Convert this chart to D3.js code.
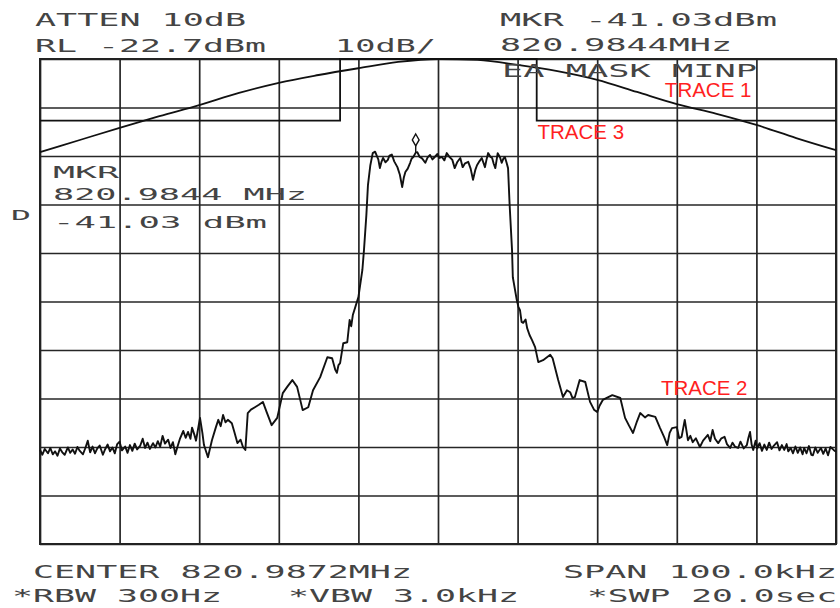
<!DOCTYPE html>
<html>
<head>
<meta charset="utf-8">
<script src="https://cdn.jsdelivr.net/npm/d3@7"></script>
<style>
  html, body { margin: 0; padding: 0; background: #fff; }
  svg { display: block; }
</style>
</head>
<body>
<div id="chart"></div>
<script>
// frequency offset from center (kHz) and level (dBm)
var freqTicks = [-50, -40, -30, -20, -10, 0, 10, 20, 30, 40, 50];
var levelTicks = [-22.7, -32.7, -42.7, -52.7, -62.7, -72.7, -82.7, -92.7, -102.7, -112.7, -122.7];

// trace 1: smooth curve
var trace1 = [
  [-50, -41.9], [-45, -39.4], [-40, -36.9], [-35, -34.5], [-30, -32.2], [-25, -29.7],
  [-20, -27.6], [-15, -26.0], [-10, -24.6], [-5, -23.3], [0, -22.7], [5, -22.9],
  [10, -23.9], [15, -25.2], [20, -27.0], [25, -29.5], [30, -32.0], [35, -34.0],
  [40, -36.3], [45, -39.0], [50, -41.5]
];

// trace 3: mask (EA MASK MINP)
var trace3 = [
  [-50, -35.4], [-12.3, -35.4], [-12.3, -22.7], [12.4, -22.7], [12.4, -35.4], [50, -35.4]
];

// trace 2: measured spectrum
var trace2 = [
  [-50.0, -103.3], [-49.7, -104.3], [-49.4, -103.1], [-49.0, -104.0], [-48.7, -102.9],
  [-48.4, -104.2], [-48.1, -103.6], [-47.8, -104.5], [-47.5, -103.0], [-47.2, -103.8],
  [-46.9, -104.3], [-46.5, -102.8], [-46.2, -103.9], [-45.9, -103.2], [-45.6, -104.1],
  [-45.3, -102.7], [-45.0, -103.5], [-44.6, -104.2], [-44.3, -102.9], [-44.0, -101.4],
  [-43.7, -103.8], [-43.4, -102.6], [-43.1, -104.0], [-42.8, -103.0], [-42.5, -102.4],
  [-42.1, -104.3], [-41.8, -103.1], [-41.5, -102.2], [-41.2, -103.6], [-40.9, -102.8],
  [-40.6, -104.0], [-40.3, -102.1], [-40.0, -101.6], [-39.7, -103.4], [-39.3, -102.6],
  [-39.0, -103.9], [-38.7, -102.3], [-38.4, -103.5], [-38.1, -102.0], [-37.8, -103.2],
  [-37.4, -102.4], [-37.1, -101.0], [-36.8, -102.9], [-36.5, -101.8], [-36.2, -103.1],
  [-35.8, -101.9], [-35.5, -102.8], [-35.2, -101.5], [-34.9, -102.6], [-34.6, -100.4],
  [-34.3, -102.0], [-33.9, -101.2], [-33.6, -102.9], [-33.3, -101.7], [-33.0, -104.2],
  [-32.7, -102.5], [-32.4, -100.9], [-32.0, -99.4], [-31.7, -100.8], [-31.4, -99.6],
  [-31.1, -101.0], [-30.9, -98.7], [-30.6, -100.2], [-30.4, -101.4], [-29.9, -96.7],
  [-29.6, -99.8], [-29.4, -102.3], [-28.9, -104.8], [-28.4, -101.3], [-27.9, -98.6],
  [-27.6, -97.1], [-27.3, -98.4], [-27.0, -96.1], [-26.7, -97.6], [-26.4, -97.1],
  [-25.9, -97.8], [-25.6, -99.5], [-25.2, -101.9], [-24.8, -101.2], [-24.5, -102.7],
  [-24.2, -103.3], [-23.9, -95.7], [-23.5, -95.0], [-23.0, -94.5], [-22.5, -94.0],
  [-22.0, -93.4], [-21.5, -95.6], [-20.9, -98.2], [-20.2, -96.7], [-19.5, -91.6],
  [-18.9, -90.2], [-18.3, -88.9], [-17.7, -90.3], [-17.0, -95.1], [-16.3, -94.5],
  [-15.7, -91.0], [-14.8, -88.3], [-13.9, -84.2], [-13.3, -84.4], [-12.9, -86.8],
  [-12.7, -87.4], [-12.5, -85.8], [-12.3, -85.4], [-11.9, -81.3], [-11.4, -81.1],
  [-11.1, -76.5], [-10.9, -77.8], [-10.7, -75.5], [-10.0, -71.8], [-9.5, -66.2],
  [-9.3, -62.1], [-9.0, -54.9], [-8.8, -48.7], [-8.5, -44.6],
  [-8.2, -42.1], [-7.9, -41.8], [-7.7, -42.6], [-7.5, -43.4], [-7.3, -45.2],
  [-7.1, -43.9], [-6.9, -43.1], [-6.6, -44.0], [-6.3, -43.5], [-6.1, -42.6],
  [-5.8, -42.4], [-5.5, -43.8], [-5.1, -45.0], [-4.8, -46.5], [-4.5, -49.1],
  [-4.3, -47.2], [-4.1, -46.0], [-3.8, -45.3], [-3.5, -44.1], [-3.3, -43.2],
  [-3.1, -42.9], [-2.8, -42.0], [-2.6, -41.9], [-2.3, -42.9], [-2.0, -43.2],
  [-1.6, -44.1], [-1.3, -43.0], [-1.0, -42.5], [-0.7, -43.4], [-0.4, -42.9],
  [-0.1, -42.3], [0.2, -43.1], [0.5, -42.9], [0.8, -43.6], [1.1, -42.1],
  [1.4, -42.8], [1.8, -43.5], [2.1, -45.2], [2.4, -44.0], [2.8, -43.1],
  [3.1, -45.0], [3.4, -44.2], [3.8, -43.9], [4.1, -45.3], [4.4, -47.6],
  [4.7, -45.5], [4.9, -44.6], [5.2, -43.8], [5.5, -43.1], [5.9, -45.0],
  [6.1, -43.4], [6.3, -42.1], [6.6, -42.9], [6.8, -43.1], [7.0, -44.3],
  [7.2, -45.2], [7.5, -42.1], [7.8, -43.0], [8.0, -44.1], [8.2, -43.3],
  [8.4, -42.9], [8.6, -44.0], [8.8, -45.2],
  [9.0, -52.8], [9.3, -62.1], [9.4, -67.7], [9.9, -72.4], [10.1, -73.8],
  [10.3, -74.5], [10.5, -76.9], [10.7, -77.1], [11.0, -76.4], [11.2, -78.2],
  [11.5, -79.6], [11.8, -80.6], [12.2, -82.1], [12.6, -85.2], [13.2, -84.8],
  [14.1, -83.7], [14.4, -84.4], [15.1, -88.9], [15.7, -92.4], [16.2, -91.0],
  [16.6, -91.4], [16.9, -92.6], [17.2, -92.4], [17.8, -88.9], [18.5, -89.3],
  [19.1, -93.4], [19.6, -95.0], [20.0, -95.5], [20.3, -94.2], [20.7, -93.0],
  [21.9, -92.0], [22.9, -92.6], [23.5, -96.7], [24.0, -98.3], [24.5, -99.8],
  [25.0, -97.4], [25.4, -95.7], [26.0, -96.6], [26.4, -96.1], [27.3, -96.5],
  [27.9, -98.8], [28.4, -100.6], [28.8, -102.3], [29.1, -99.8], [29.4, -98.8],
  [30.0, -98.6], [30.3, -100.9], [30.6, -100.6], [31.0, -97.1], [31.4, -101.3],
  [31.7, -100.4], [32.0, -101.7], [32.4, -100.9], [32.9, -102.7], [33.3, -101.4],
  [33.9, -100.2], [34.2, -101.5], [34.5, -99.2], [34.8, -101.0], [35.2, -101.9],
  [35.6, -100.9], [36.0, -100.6], [36.3, -102.1], [36.7, -102.9], [37.0, -101.8],
  [37.3, -102.6], [37.7, -102.9], [38.0, -101.6], [38.4, -103.0], [38.8, -102.3],
  [39.0, -100.8], [39.2, -99.6], [39.4, -102.2], [39.6, -103.3], [39.9, -101.4],
  [40.1, -103.0], [40.4, -101.9], [40.7, -103.5], [41.0, -102.2], [41.3, -103.3],
  [41.6, -101.8], [41.9, -103.1], [42.2, -102.4], [42.6, -101.7], [42.9, -103.4],
  [43.2, -102.3], [43.5, -103.3], [43.8, -102.1], [44.0, -103.6], [44.3, -102.9],
  [44.6, -104.0], [44.9, -102.6], [45.2, -103.9], [45.5, -102.8], [45.8, -104.2],
  [46.0, -102.9], [46.3, -104.0], [46.6, -102.5], [46.9, -104.3], [47.1, -104.4],
  [47.4, -102.8], [47.7, -103.9], [48.1, -102.9], [48.4, -104.1], [48.7, -103.0],
  [49.0, -104.4], [49.3, -102.7], [49.7, -103.3], [50.0, -103.7]
];

var marker = [-2.8, -41.03];

var headerTop = ['ATTEN 10dB', 'MKR -41.03dBm'];
var headerMid = ['RL -22.7dBm', '10dB/', '820.9844MHz'];
var maskLabel = 'EA MASK MINP';
var mkrReadout = ['MKR', '820.9844 MHz', '-41.03 dBm'];
var footerTop = ['CENTER 820.9872MHz', 'SPAN 100.0kHz'];
var footerBottom = ['*RBW 300Hz', '*VBW 3.0kHz', '*SWP 20.0sec'];
var traceNames = ['TRACE 1', 'TRACE 2', 'TRACE 3'];

var width = 840, height = 608;
var plot = {left: 40, right: 836, top: 59, bottom: 544};

var svg = d3.select('#chart').append('svg')
    .attr('width', width)
    .attr('height', height);

svg.append('rect').attr('width', width).attr('height', height).attr('fill', '#fff');

var x = d3.scaleLinear().domain([-50, 50]).range([plot.left, plot.right]);
var y = d3.scaleLinear().domain([-22.7, -122.7]).range([plot.top, plot.bottom]);

// graticule
var gx = svg.append('g')
    .attr('transform', 'translate(0,' + plot.bottom + ')')
    .call(d3.axisBottom(x).tickValues(freqTicks).tickSize(-(plot.bottom - plot.top)).tickFormat(''));
var gy = svg.append('g')
    .attr('transform', 'translate(' + plot.left + ',0)')
    .call(d3.axisLeft(y).tickValues(levelTicks).tickSize(-(plot.right - plot.left)).tickFormat(''));
[gx, gy].forEach(function (g) {
    g.select('.domain').remove();
    g.selectAll('.tick line').attr('stroke', '#262626').attr('stroke-width', 1.7);
});
svg.append('rect')
    .attr('x', plot.left).attr('y', plot.top)
    .attr('width', plot.right - plot.left).attr('height', plot.bottom - plot.top)
    .attr('fill', 'none').attr('stroke', '#222').attr('stroke-width', 2);

var line = d3.line().x(function (d) { return x(d[0]); }).y(function (d) { return y(d[1]); });

svg.append('path').datum(trace3).attr('d', line)
    .attr('fill', 'none').attr('stroke', '#111').attr('stroke-width', 1.8);
svg.append('path').datum(trace1).attr('d', line.curve(d3.curveMonotoneX))
    .attr('fill', 'none').attr('stroke', '#111').attr('stroke-width', 1.8);
svg.append('path').datum(trace2).attr('d', line.curve(d3.curveLinear))
    .attr('fill', 'none').attr('stroke', '#111').attr('stroke-width', 1.9)
    .attr('stroke-linejoin', 'round');

// marker diamond
var mx = x(marker[0]), my = y(marker[1]);
svg.append('line')
    .attr('x1', mx).attr('x2', mx).attr('y1', my - 4).attr('y2', my + 4)
    .attr('stroke', '#111').attr('stroke-width', 1.4);
svg.append('path')
    .attr('d', d3.symbol().type(d3.symbolDiamond).size(40)())
    .attr('transform', 'translate(' + mx + ',' + (my - 8) + ')')
    .attr('fill', '#fff').attr('stroke', '#111').attr('stroke-width', 1.4);

// plotter-style text, stretched to the wide character pitch
function plotText(txt, px, py, len, size) {
    svg.append('text')
        .attr('x', px).attr('y', py)
        .attr('textLength', len)
        .attr('lengthAdjust', 'spacingAndGlyphs')
        .attr('font-family', '"DejaVu Sans Mono", monospace')
        .attr('font-size', size || 18)
        .attr('fill', '#444')
        .text(txt);
}

plotText(headerTop[0], 35, 26, 211);
plotText(headerTop[1], 500, 26, 277);
plotText(headerMid[0], 35, 52, 231);
plotText(headerMid[1], 335, 52, 101);
plotText(headerMid[2], 500, 51, 232);
plotText(maskLabel, 502, 77, 255);
plotText(mkrReadout[0], 53, 178, 66, 16);
plotText(mkrReadout[1], 53, 200, 254, 16);
plotText(mkrReadout[2], 53, 228, 214, 16);
plotText('D', 11, 220, 20, 14);
plotText(footerTop[0], 33, 578, 379);
plotText(footerTop[1], 563, 578, 274);
plotText(footerBottom[0], 12, 602, 210);
plotText(footerBottom[1], 288, 602, 231);
plotText(footerBottom[2], 587, 602, 250);

// red trace annotations
var redPos = [[x(28.5), y(-30.5)], [x(28.0), y(-92.0)], [x(12.5), y(-39.2)]];
traceNames.forEach(function (t, i) {
    svg.append('text')
        .attr('x', redPos[i][0]).attr('y', redPos[i][1])
        .attr('font-family', '"Liberation Sans", Arial, sans-serif')
        .attr('font-size', 20.5)
        .attr('fill', '#ff1f1f')
        .text(t);
});
</script>
</body>
</html>
